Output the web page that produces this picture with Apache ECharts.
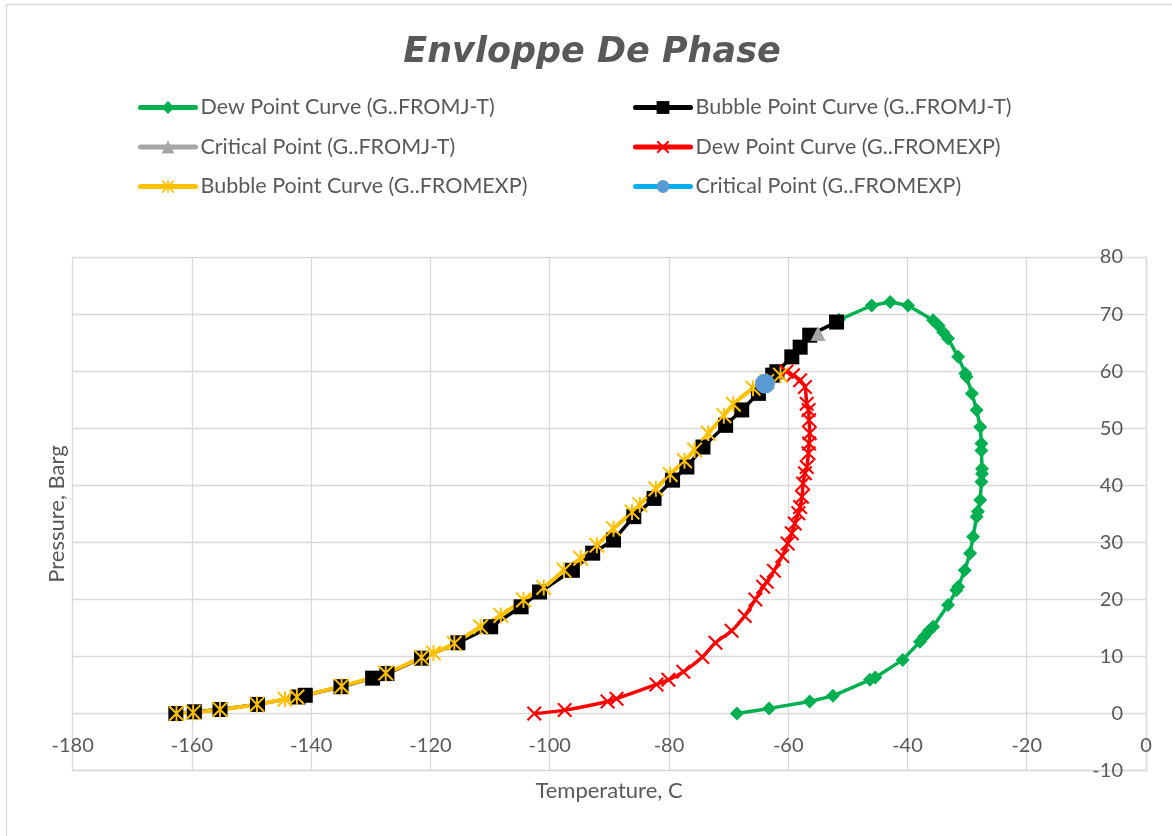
<!DOCTYPE html>
<html><head><meta charset="utf-8">
<script src="https://cdn.jsdelivr.net/npm/echarts@6/dist/echarts.min.js"></script>
<style>html,body{margin:0;padding:0;background:#fff}#c{width:1172px;height:836px}</style>
</head><body><div id="c"></div>
<script>
// ---- data (Temperature °C, Pressure barg) ----
const dewJT_T = [-68.6, -63.2, -56.4, -52.5, -46.3, -45.4, -40.8, -37.9, -37.2, -36.4, -35.7, -33.2, -31.8, -31.5, -30.4, -29.5, -29.0, -28.4, -28.2, -27.8, -27.6, -27.5, -27.5, -27.6, -27.6, -27.8, -28.4, -29.2, -30.1, -30.3, -31.5, -33.2, -34.0, -34.8, -35.7, -39.9, -42.9, -46.0, -51.5];
const dewJT_P = [0, 0.9, 2.1, 3.1, 5.9, 6.3, 9.4, 12.6, 13.5, 14.5, 15.2, 19.0, 21.6, 22.2, 25.1, 28.1, 31.0, 34.5, 35.4, 37.4, 40.6, 42.0, 42.9, 46.1, 47.3, 50.2, 53.2, 56.1, 59.0, 59.6, 62.5, 65.7, 66.8, 68.0, 68.9, 71.5, 72.1, 71.5, 69.0];

const bubJT_T = [-162.7, -159.6, -155.3, -149.0, -142.2, -141.0, -135.0, -129.7, -127.3, -121.5, -115.4, -109.9, -104.8, -101.7, -96.2, -92.8, -89.3, -85.9, -82.5, -79.4, -77.0, -74.3, -70.5, -67.8, -65.0, -62.6, -61.9, -59.4, -58.0, -56.4, -51.9];
const bubJT_P = [0, 0.3, 0.7, 1.6, 2.9, 3.2, 4.7, 6.2, 7.0, 9.7, 12.4, 15.2, 18.7, 21.3, 25.1, 28.1, 30.4, 34.5, 37.7, 40.9, 43.2, 46.7, 50.5, 53.2, 56.1, 59.3, 59.9, 62.5, 64.2, 66.3, 68.6];

const critJT_T = [-55.0];
const critJT_P = [66.6];

const dewEXP_T = [-102.6, -97.5, -90.3, -88.8, -82.1, -80.1, -77.6, -74.4, -72.2, -69.5, -67.3, -65.5, -64.2, -63.6, -62.4, -61.0, -60.1, -59.4, -58.9, -58.3, -58.0, -57.7, -57.5, -57.2, -56.9, -56.6, -56.5, -56.4, -56.5, -56.6, -56.9, -57.2, -58.0, -59.2, -60.3];
const dewEXP_P = [0, 0.6, 2.1, 2.6, 5.1, 5.9, 7.3, 9.9, 12.4, 14.5, 17.1, 20.0, 22.2, 23.1, 25.0, 27.6, 29.8, 31.6, 33.3, 35.1, 36.2, 38.0, 40.3, 42.1, 43.2, 45.6, 47.3, 49.1, 51.4, 53.2, 54.3, 57.2, 58.4, 59.3, 59.9];

const bubEXP_T = [-162.6, -159.8, -155.3, -149.1, -144.4, -142.4, -134.9, -127.5, -121.5, -119.5, -116.0, -111.6, -108.2, -104.4, -101.0, -97.6, -94.8, -92.1, -89.3, -86.2, -84.9, -82.2, -79.8, -77.4, -75.7, -73.4, -70.8, -69.2, -65.9, -63.6, -61.3];
const bubEXP_P = [0, 0.2, 0.7, 1.6, 2.5, 2.9, 4.8, 7.1, 9.8, 10.6, 12.3, 15.2, 17.2, 19.9, 22.1, 25.1, 27.2, 29.5, 32.4, 35.3, 36.6, 39.4, 41.9, 44.3, 46.2, 49.1, 52.2, 54.2, 57.0, 58.2, 59.3];

const critEXP_T = [-63.9];
const critEXP_P = [57.8];

const seriesNames = [
  'Dew Point Curve (G..FROMJ-T)',
  'Bubble Point Curve (G..FROMJ-T)',
  'Critical Point (G..FROMJ-T)',
  'Dew Point Curve (G..FROMEXP)',
  'Bubble Point Curve (G..FROMEXP)',
  'Critical Point (G..FROMEXP)'
];
const chartTitle = 'Envloppe De Phase';
const xTitle = 'Temperature, C';
const yTitle = 'Pressure, Barg';

// ---- helpers ----
const pairs = (xs, ys) => xs.map((x, i) => [x, ys[i]]);
const X_PATH = 'path://M0,10L10,0L100,90L90,100Z M90,0L100,10L10,100L0,90Z';
const STAR_PATH = 'path://M0,9L9,0L100,91L91,100Z M91,0L100,9L9,100L0,91Z M44,0L56,0L56,100L44,100Z';
const FONT = 'Lato';
const TXT = '#595959';
const GRID = '#d9d9d9';

const chart = echarts.init(document.getElementById('c'), null, {renderer: 'canvas'});

const legendCommon = {
  orient: 'vertical',
  itemWidth: 55,
  itemHeight: 16,
  itemGap: 17.5,
  textStyle: {fontFamily: FONT, fontSize: 21.5, color: TXT, lineHeight: 22},
  lineStyle: {width: 5, cap: 'round'},
  selectedMode: false
};

chart.setOption({
  animation: false,
  backgroundColor: '#fff',
  grid: {left: 72.7, right: 26, top: 257, bottom: 65.4, containLabel: false},
  legend: [
    Object.assign({left: 133, top: 91.5, data: [seriesNames[0], seriesNames[2], seriesNames[4]]}, legendCommon),
    Object.assign({left: 628, top: 91.5, data: [seriesNames[1], seriesNames[3], seriesNames[5]]}, legendCommon)
  ],
  xAxis: {
    type: 'value', min: -180, max: 0, interval: 20, position: 'bottom',
    axisLine: {onZero: false, lineStyle: {color: GRID, width: 1.3}},
    axisTick: {show: false},
    axisLabel: {inside: true, fontFamily: FONT, fontSize: 20, color: TXT, margin: 15},
    splitLine: {show: true, lineStyle: {color: GRID, width: 1.3}}
  },
  yAxis: {
    type: 'value', min: -10, max: 80, interval: 10, position: 'right',
    axisLine: {onZero: false, lineStyle: {color: GRID, width: 1.3}},
    axisTick: {show: false},
    axisLabel: {inside: true, fontFamily: FONT, fontSize: 20, color: TXT, margin: 23},
    splitLine: {show: true, lineStyle: {color: GRID, width: 1.3}}
  },
  graphic: [
    {type: 'rect', silent: true, z: -10, shape: {x: 6.5, y: 4.5, width: 1200, height: 900},
      style: {fill: 'none', stroke: GRID, lineWidth: 1.3}},
    {type: 'text', silent: true, x: 592, y: 52.5,
      style: {text: chartTitle, font: 'italic bold 35px "DejaVu Sans"', fill: TXT, align: 'center', verticalAlign: 'middle'}},
    {type: 'text', silent: true, x: 609, y: 791,
      style: {text: xTitle, font: '22px Lato', fill: TXT, align: 'center', verticalAlign: 'middle'}},
    {type: 'text', silent: true, x: 57, y: 514, rotation: Math.PI / 2,
      style: {text: yTitle, font: '22px Lato', fill: TXT, align: 'center', verticalAlign: 'middle'}}
  ],
  series: [
    {name: seriesNames[0], type: 'line', data: pairs(dewJT_T, dewJT_P),
      symbol: 'diamond', symbolSize: 14, showAllSymbol: true,
      lineStyle: {color: '#00B050', width: 3.5}, itemStyle: {color: '#00B050'}},
    {name: seriesNames[1], type: 'line', data: pairs(bubJT_T, bubJT_P),
      symbol: 'rect', symbolSize: 15, showAllSymbol: true,
      lineStyle: {color: '#000000', width: 3.5}, itemStyle: {color: '#000000'}},
    {name: seriesNames[2], type: 'line', data: pairs(critJT_T, critJT_P),
      symbol: 'triangle', symbolSize: 15,
      lineStyle: {color: '#A5A5A5', width: 3.5}, itemStyle: {color: '#A5A5A5'}},
    {name: seriesNames[3], type: 'line', data: pairs(dewEXP_T, dewEXP_P), smooth: 0.4,
      symbol: X_PATH, symbolSize: 15, showAllSymbol: true,
      lineStyle: {color: '#FF0000', width: 3.5}, itemStyle: {color: '#FF0000'}},
    {name: seriesNames[4], type: 'line', data: pairs(bubEXP_T, bubEXP_P), smooth: 0.4,
      symbol: STAR_PATH, symbolSize: 16, showAllSymbol: true,
      lineStyle: {color: '#FFC000', width: 4}, itemStyle: {color: '#FFC000'}},
    {name: seriesNames[5], type: 'line', data: pairs(critEXP_T, critEXP_P),
      symbol: 'circle', symbolSize: 20,
      lineStyle: {color: '#00B0F0', width: 3.5}, itemStyle: {color: '#5B9BD5'}}
  ]
});
</script>
</body></html>
